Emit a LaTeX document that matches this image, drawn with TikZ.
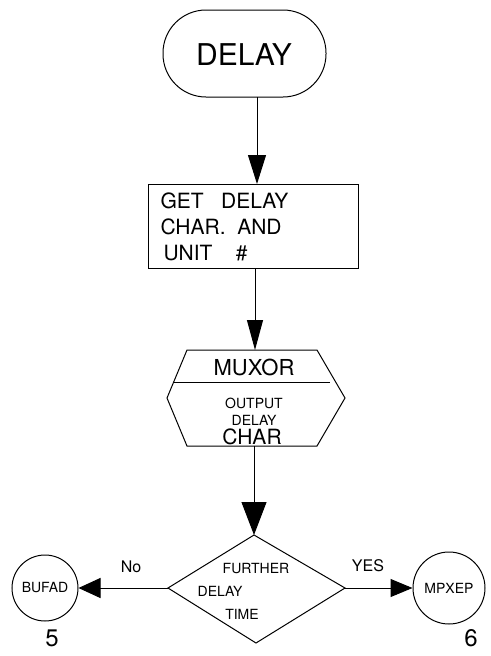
\documentclass[tikz,border=0pt]{standalone}
\usepackage{fontspec}
\setmainfont{TeX Gyre Heros}
\usetikzlibrary{arrows.meta}
\begin{document}
\begin{tikzpicture}[x=1pt,y=-1pt,
  line width=1pt,
  flow/.style={draw=black, -{Triangle[length=26pt,width=18pt]}},
  hand/.style={font=\fontsize{21}{23}\selectfont, inner sep=0pt},
  small/.style={font=\fontsize{14}{16}\selectfont, inner sep=0pt}]
\useasboundingbox (0,0) rectangle (490,656);
\fill[white] (0,0) rectangle (490,656);

% start terminal
\draw[rounded corners=43pt] (163,10) rectangle (326,97);
\node[font=\fontsize{30}{32}\selectfont, inner sep=0pt] (start) at (244,55) {DELAY};
\coordinate (startB) at (257,97);

% process box
\draw (148,184) rectangle (358,268);
\coordinate (boxT) at (257,184);
\coordinate (boxB) at (255,268);
\node[hand, anchor=west] (b1) at (160,201) {GET \ \ DELAY};
\node[hand, anchor=west] (b2) at (160,227) {CHAR. \ AND};
\node[hand, anchor=west] (b3) at (163,253) {UNIT \ \ \ \#};

% subroutine hexagon
\draw (187,350) -- (317,350) -- (345,398) -- (317,446) -- (187,446) -- (167,398) -- cycle;
\draw (173.7,382) -- (330.3,382);
\coordinate (hexT) at (255,350);
\coordinate (hexB) at (254,446);
\node[font=\fontsize{22}{24}\selectfont, inner sep=0pt] (mux) at (254,367) {MUXOR};
\node[small] (h1) at (254,403) {OUTPUT};
\node[small] (h2) at (254,420) {DELAY};
\node[hand] (h3) at (252,437) {CHAR};

% decision
\draw (254,535) -- (345,588) -- (256,643) -- (168,588) -- cycle;
\coordinate (decT) at (254,535);
\coordinate (decL) at (168,588);
\coordinate (decR) at (345,588);
\node[small] (d1) at (256,569) {FURTHER};
\node[small] (d2) at (220,591) {DELAY};
\node[small] (d3) at (242,614) {TIME};

% off-page connectors
\node[circle, draw, minimum size=66pt, inner sep=0pt, font=\fontsize{14}{16}\selectfont] (bufad) at (45,588) {BUFAD};
\node[circle, draw, minimum size=72pt, inner sep=0pt, font=\fontsize{14}{16}\selectfont] (mpxep) at (449,588) {MPXEP};
\node[font=\fontsize{24}{26}\selectfont, inner sep=0pt] (n5) at (52,638) {5};
\node[font=\fontsize{24}{26}\selectfont, inner sep=0pt] (n6) at (471,638) {6};

% flow lines
\draw[flow, -{Triangle[length=29pt,width=18pt]}] (startB) -- (boxT);
\draw[flow, -{Triangle[length=30pt,width=16pt]}] (boxB) -- (hexT);
\draw[flow, -{Triangle[length=33pt,width=25pt]}] (hexB) -- (decT);
\draw[flow, -{Triangle[length=22pt,width=20pt]}] (decL) -- (bufad);
\draw[flow, -{Triangle[length=22pt,width=18pt]}] (decR) -- (mpxep);
\node[font=\fontsize{16}{18}\selectfont, inner sep=0pt] (no) at (131,567) {No};
\node[font=\fontsize{16}{18}\selectfont, inner sep=0pt] (yes) at (368,566) {YES};
\end{tikzpicture}
\end{document}
